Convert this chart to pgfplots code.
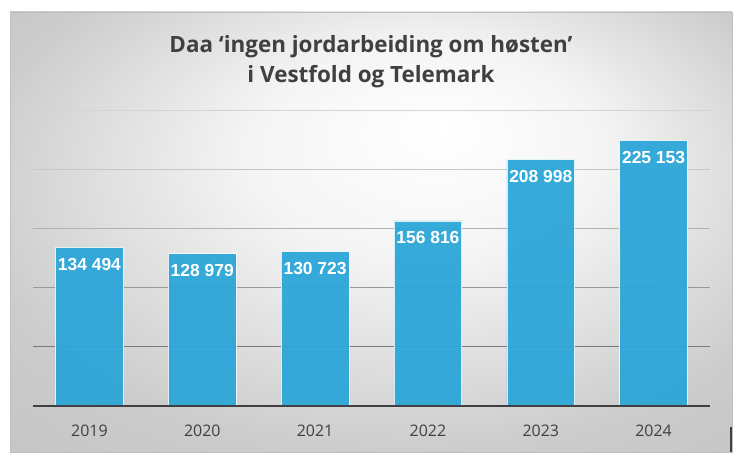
\documentclass[border=0pt]{standalone}
\usepackage{pgfplots}
\pgfplotsset{compat=1.18}
\usepackage{fontspec}
\setmainfont{Open Sans}
\newfontfamily\labfont{Liberation Sans}
\definecolor{barblue}{HTML}{2CA6D8}
\definecolor{txtgray}{HTML}{404040}
\pgfdeclareradialshading{bgshade}{\pgfpoint{5bp}{12bp}}{color(0bp)=(white); color(12bp)=(white!96!black); color(30bp)=(white!80!black); color(50bp)=(white!74!black)}
\begin{document}
\begin{tikzpicture}[x=1bp,y=1bp]
\fill[white] (0,0) rectangle (741,459);
\shade[shading=bgshade] (10,7) rectangle (732,447);
\draw[white!75!black, line width=0.8bp] (10,7) rectangle (732,447);
\draw[txtgray, line width=1.2bp] (731,7) -- (731,32);
\node[font=\fontsize{22.5}{30}\selectfont\bfseries, text=txtgray, align=center] at (371,397)
  {Daa ‘ingen jordarbeiding om høsten’\\i Vestfold og Telemark};
\begin{axis}[
  at={(89.42bp,53bp)}, anchor=origin,
  scale only axis, width=677bp, height=295bp,
  xmin=-0.5, xmax=5.5, ymin=0, ymax=250000,
  axis line style={draw=none},
  ytick=\empty,
  xtick={0,1,2,3,4,5},
  xticklabels={2019,2020,2021,2022,2023,2024},
  major tick length=0pt,
  xticklabel style={font=\fontsize{16}{18}\selectfont, text=txtgray, yshift=-15bp},
  clip=false,
  point meta=explicit symbolic,
  nodes near coords,
  every node near coord/.append style={font=\labfont\fontsize{17.5}{18}\selectfont\bfseries, text=white, anchor=north, yshift=-7bp},
]
\draw[white!83!black, line width=1bp] (axis cs:-0.5,250000) -- (axis cs:5.5,250000);
\draw[white!78!black, line width=1bp] (axis cs:-0.5,200000) -- (axis cs:5.5,200000);
\draw[white!70!black, line width=1bp] (axis cs:-0.5,150000) -- (axis cs:5.5,150000);
\draw[white!60!black, line width=1bp] (axis cs:-0.5,100000) -- (axis cs:5.5,100000);
\draw[white!48!black, line width=1bp] (axis cs:-0.5,50000) -- (axis cs:5.5,50000);
\addplot[ybar, bar width=0.6, fill=barblue, fill opacity=0.95, draw=white, draw opacity=0.8, line width=0.8bp, text opacity=1]
  coordinates {(0,134494) [134 494] (1,128979) [128 979] (2,130723) [130 723] (3,156816) [156 816] (4,208998) [208 998] (5,225153) [225 153]};
\draw[txtgray, line width=2.2bp] (axis cs:-0.5,0) -- (axis cs:5.5,0);
\end{axis}
\end{tikzpicture}
\end{document}
